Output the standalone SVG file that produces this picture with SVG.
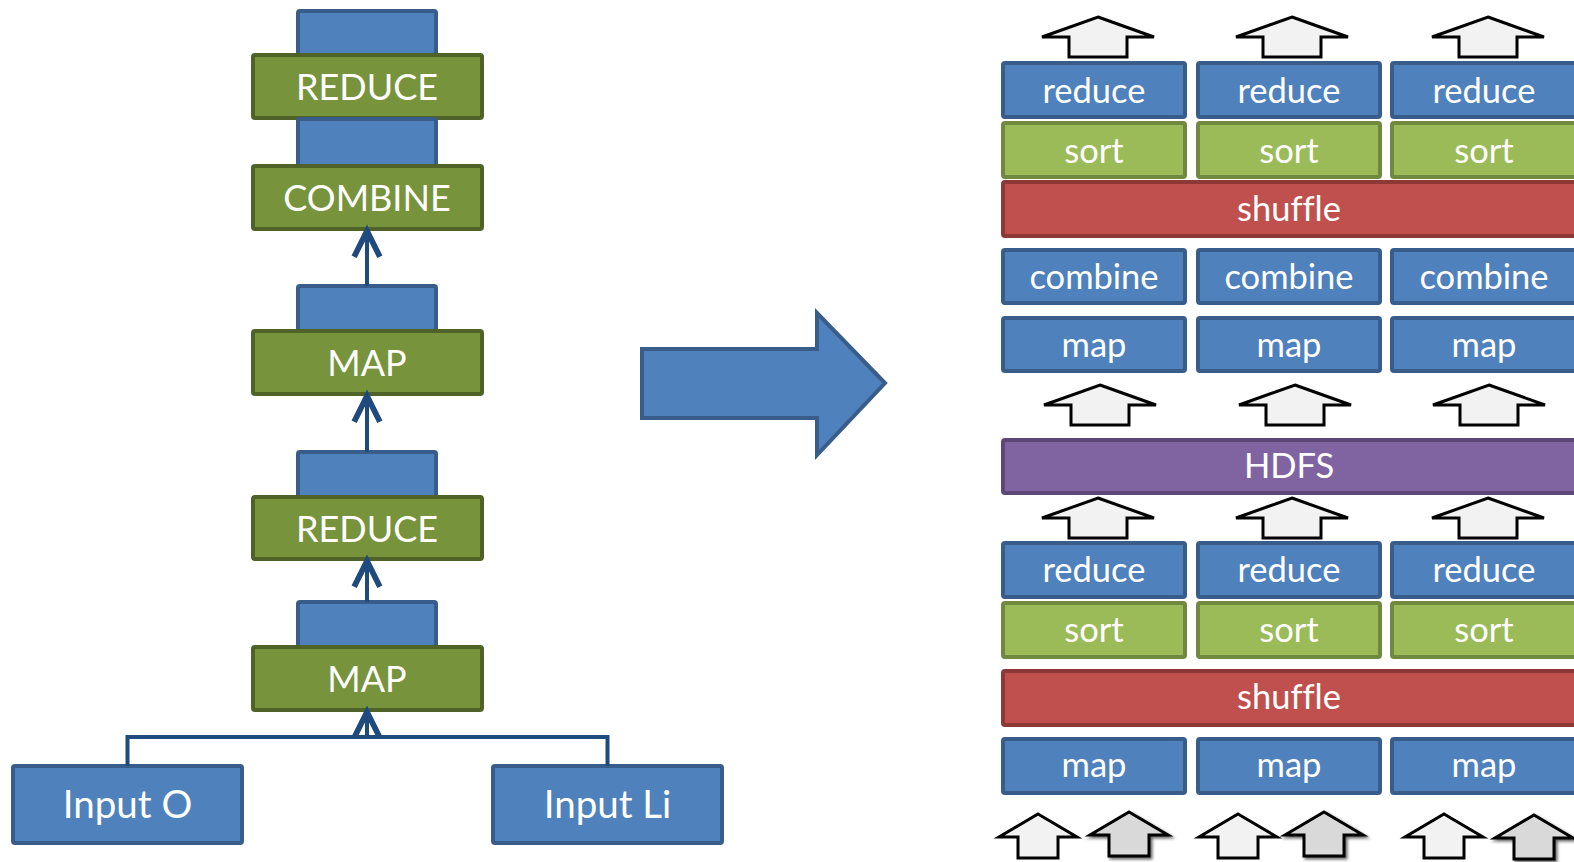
<svg xmlns="http://www.w3.org/2000/svg" width="1574" height="862" viewBox="0 0 1574 862">
  <style>
    .blue { fill: #4f81bd; stroke: #385d8a; stroke-width: 4; }
    .olive { fill: #77933c; stroke: #4f6228; stroke-width: 4; }
    .lime { fill: #9bbb59; stroke: #71893f; stroke-width: 4; }
    .red { fill: #c0504d; stroke: #8c3836; stroke-width: 4; }
    .purple { fill: #8064a2; stroke: #5c4776; stroke-width: 4; }
    .up { fill: #f2f2f2; stroke: #000; stroke-width: 3; stroke-linejoin: miter; }
    .upgray { fill: #d9d9d9; stroke: #000; stroke-width: 3; filter: url(#shadow); }
    text { font-family: Lato, "Open Sans", sans-serif; fill: #fff; text-anchor: middle; font-variant-ligatures: none; }
    .big { font-size: 36px; }
    .input { font-size: 38.5px; }
    .small { font-size: 34.5px; }
    .wire { fill: none; stroke: #1f4a7e; stroke-width: 4; }
  </style>
  <defs>
    <marker id="open" markerUnits="userSpaceOnUse" markerWidth="40" markerHeight="40" refX="0" refY="0" orient="auto" viewBox="-22 -14 26 28" overflow="visible">
      <path d="M -18 -9 L 0 0 L -18 9" fill="none" stroke="#1f4a7e" stroke-width="4"/>
    </marker>
    <filter id="shadow" x="-20%" y="-20%" width="150%" height="150%">
      <feDropShadow dx="2" dy="2" stdDeviation="1.5" flood-color="#000" flood-opacity="0.6"/>
    </filter>
    <path id="arrowUp" d="M 0 0 L 56 20 L 29 20 L 29 40 L -29 40 L -29 20 L -56 20 Z"/>
    <path id="arrowIn" d="M 0 0 L 39 23 L 20 23 L 20 44 L -20 44 L -20 23 L -39 23 Z"/>
  </defs>

  <!-- left: job chain -->
  <g id="reduce-top">
    <rect class="blue" x="298" y="11" width="138" height="50" rx="2"/>
    <rect class="olive" x="253" y="55" width="229" height="63" rx="2"/>
    <text class="big" x="367" y="100">REDUCE</text>
  </g>
  <g id="combine">
    <rect class="blue" x="298" y="119" width="138" height="47" rx="2"/>
    <rect class="olive" x="253" y="166" width="229" height="63" rx="2"/>
    <text class="big" x="367" y="211">COMBINE</text>
  </g>
  <g id="map-upper">
    <rect class="blue" x="298" y="286" width="138" height="46" rx="2"/>
    <rect class="olive" x="253" y="331" width="229" height="63" rx="2"/>
    <text class="big" x="367" y="376">MAP</text>
  </g>
  <g id="reduce-mid">
    <rect class="blue" x="298" y="452" width="138" height="46" rx="2"/>
    <rect class="olive" x="253" y="497" width="229" height="62" rx="2"/>
    <text class="big" x="367" y="542">REDUCE</text>
  </g>
  <g id="map-lower">
    <rect class="blue" x="298" y="602" width="138" height="46" rx="2"/>
    <rect class="olive" x="253" y="647" width="229" height="63" rx="2"/>
    <text class="big" x="367" y="692">MAP</text>
  </g>
  <g id="input-o">
    <rect class="blue" x="13" y="766" width="229" height="77" rx="2"/>
    <text class="input" x="127.5" y="818">Input O</text>
  </g>
  <g id="input-li">
    <rect class="blue" x="493" y="766" width="229" height="77" rx="2"/>
    <text class="input" x="607.5" y="818">Input Li</text>
  </g>

  <g id="connectors">
    <path class="wire" d="M 367 286 L 367 231" marker-end="url(#open)"/>
    <path class="wire" d="M 367 452 L 367 396" marker-end="url(#open)"/>
    <path class="wire" d="M 367 602 L 367 561" marker-end="url(#open)"/>
    <path class="wire" d="M 127.5 766 L 127.5 737 L 607.5 737 L 607.5 766"/>
    <path class="wire" d="M 367 737 L 367 712" marker-end="url(#open)"/>
  </g>

  <!-- transition arrow -->
  <g id="transform-arrow">
    <path class="blue" d="M 642 349 L 817 349 L 817 313 L 885 383 L 817 455 L 817 418 L 642 418 Z" stroke-linejoin="miter"/>
  </g>

  <!-- right: expanded pipeline -->
  <g id="out-arrows">
    <use href="#arrowUp" class="up" x="1098" y="17"/>
    <use href="#arrowUp" class="up" x="1292" y="17"/>
    <use href="#arrowUp" class="up" x="1488" y="17"/>
  </g>
  <g id="reduce-row-2">
    <rect class="blue" x="1003" y="63" width="182" height="54" rx="2"/>
    <text class="small" x="1094" y="103">reduce</text>
    <rect class="blue" x="1198" y="63" width="182" height="54" rx="2"/>
    <text class="small" x="1289" y="103">reduce</text>
    <rect class="blue" x="1392" y="63" width="184" height="54" rx="2"/>
    <text class="small" x="1484" y="103">reduce</text>
  </g>
  <g id="sort-row-2">
    <rect class="lime" x="1003" y="123" width="182" height="54" rx="2"/>
    <text class="small" x="1094" y="163">sort</text>
    <rect class="lime" x="1198" y="123" width="182" height="54" rx="2"/>
    <text class="small" x="1289" y="163">sort</text>
    <rect class="lime" x="1392" y="123" width="184" height="54" rx="2"/>
    <text class="small" x="1484" y="163">sort</text>
  </g>
  <g id="shuffle-2">
    <rect class="red" x="1003" y="182" width="573" height="54" rx="2"/>
    <text class="small" x="1289" y="221">shuffle</text>
  </g>
  <g id="combine-row">
    <rect class="blue" x="1003" y="250" width="182" height="53" rx="2"/>
    <text class="small" x="1094" y="289">combine</text>
    <rect class="blue" x="1198" y="250" width="182" height="53" rx="2"/>
    <text class="small" x="1289" y="289">combine</text>
    <rect class="blue" x="1392" y="250" width="184" height="53" rx="2"/>
    <text class="small" x="1484" y="289">combine</text>
  </g>
  <g id="map-row-2">
    <rect class="blue" x="1003" y="318" width="182" height="53" rx="2"/>
    <text class="small" x="1094" y="357">map</text>
    <rect class="blue" x="1198" y="318" width="182" height="53" rx="2"/>
    <text class="small" x="1289" y="357">map</text>
    <rect class="blue" x="1392" y="318" width="184" height="53" rx="2"/>
    <text class="small" x="1484" y="357">map</text>
  </g>
  <g id="hdfs-in-arrows">
    <use href="#arrowUp" class="up" x="1100" y="385"/>
    <use href="#arrowUp" class="up" x="1295" y="385"/>
    <use href="#arrowUp" class="up" x="1489" y="385"/>
  </g>
  <g id="hdfs">
    <rect class="purple" x="1003" y="440" width="573" height="53" rx="2"/>
    <text class="small" x="1289" y="478">HDFS</text>
  </g>
  <g id="hdfs-out-arrows">
    <use href="#arrowUp" class="up" x="1098" y="498"/>
    <use href="#arrowUp" class="up" x="1292" y="498"/>
    <use href="#arrowUp" class="up" x="1488" y="498"/>
  </g>
  <g id="reduce-row-1">
    <rect class="blue" x="1003" y="543" width="182" height="54" rx="2"/>
    <text class="small" x="1094" y="582">reduce</text>
    <rect class="blue" x="1198" y="543" width="182" height="54" rx="2"/>
    <text class="small" x="1289" y="582">reduce</text>
    <rect class="blue" x="1392" y="543" width="184" height="54" rx="2"/>
    <text class="small" x="1484" y="582">reduce</text>
  </g>
  <g id="sort-row-1">
    <rect class="lime" x="1003" y="603" width="182" height="54" rx="2"/>
    <text class="small" x="1094" y="642">sort</text>
    <rect class="lime" x="1198" y="603" width="182" height="54" rx="2"/>
    <text class="small" x="1289" y="642">sort</text>
    <rect class="lime" x="1392" y="603" width="184" height="54" rx="2"/>
    <text class="small" x="1484" y="642">sort</text>
  </g>
  <g id="shuffle-1">
    <rect class="red" x="1003" y="671" width="573" height="54" rx="2"/>
    <text class="small" x="1289" y="709">shuffle</text>
  </g>
  <g id="map-row-1">
    <rect class="blue" x="1003" y="739" width="182" height="54" rx="2"/>
    <text class="small" x="1094" y="777">map</text>
    <rect class="blue" x="1198" y="739" width="182" height="54" rx="2"/>
    <text class="small" x="1289" y="777">map</text>
    <rect class="blue" x="1392" y="739" width="184" height="54" rx="2"/>
    <text class="small" x="1484" y="777">map</text>
  </g>
  <g id="input-arrows">
    <use href="#arrowIn" class="up" x="1038" y="814"/>
    <use href="#arrowIn" class="upgray" x="1129" y="812"/>
    <use href="#arrowIn" class="up" x="1238" y="814"/>
    <use href="#arrowIn" class="upgray" x="1324" y="812"/>
    <use href="#arrowIn" class="up" x="1444" y="814"/>
    <use href="#arrowIn" class="upgray" x="1534" y="815"/>
  </g>
</svg>
